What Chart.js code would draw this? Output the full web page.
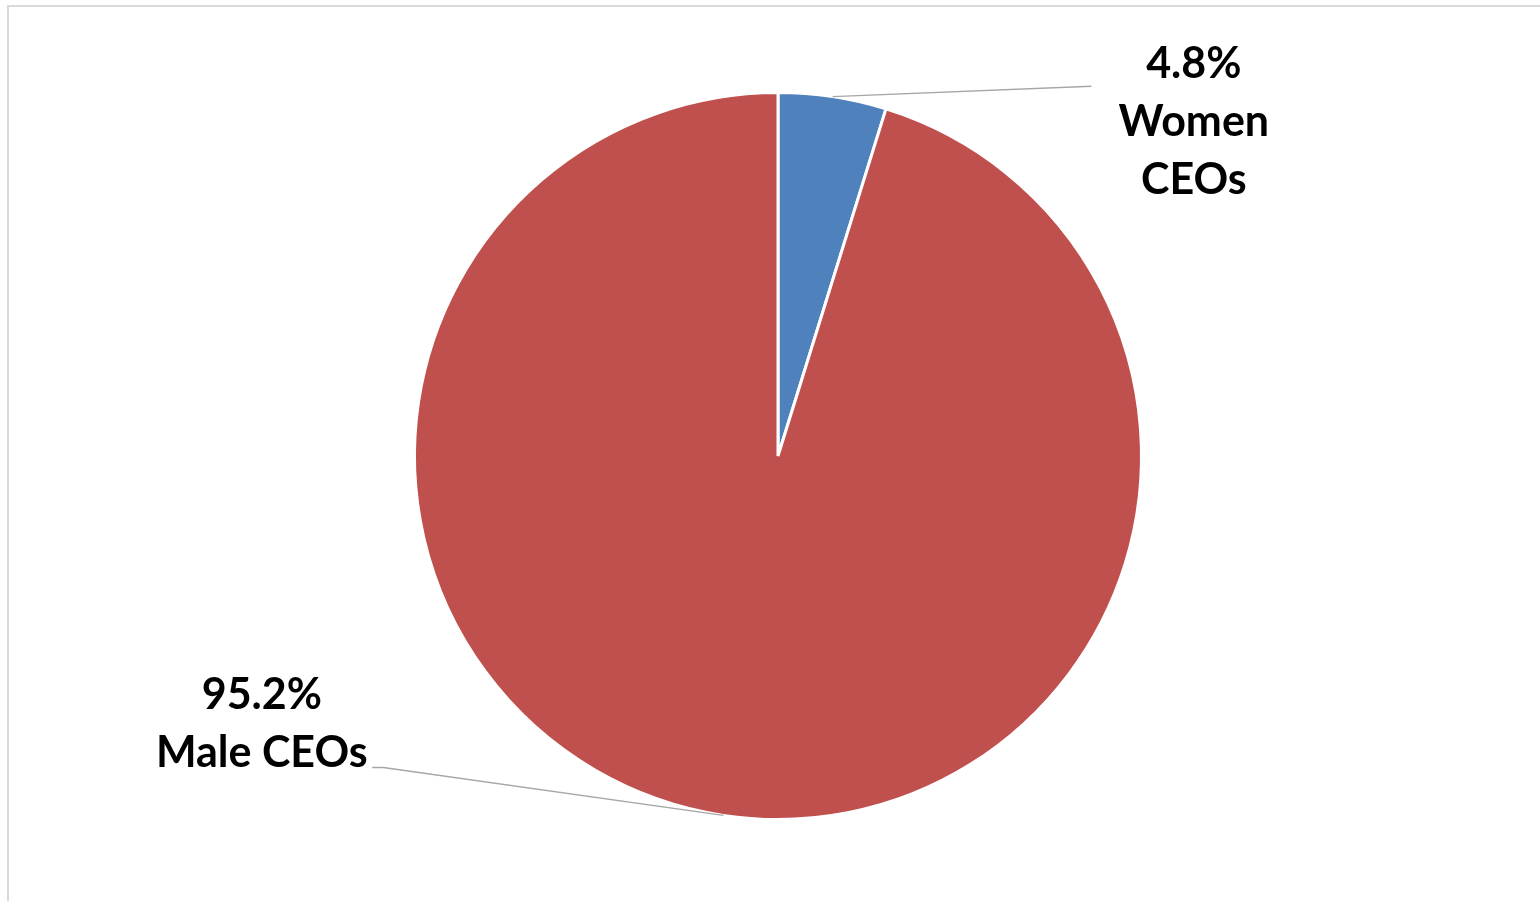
<!DOCTYPE html>
<html>
<head>
<meta charset="utf-8">
<script src="https://cdn.jsdelivr.net/npm/chart.js@4.4.1/dist/chart.umd.min.js"></script>
<style>
    html, body { margin: 0; padding: 0; background: #fff; }
    #wrap { width: 1540px; height: 901px; }
</style>
</head>
<body>
<div id="wrap"><canvas id="myChart" width="1540" height="901"></canvas></div>
<script>
// chart data
var categories = ['Women CEOs', 'Male CEOs'];
var shares = [4.8, 95.2];
var labelLines = [['4.8%', 'Women', 'CEOs'], ['95.2%', 'Male CEOs']];
var sliceColors = ['#4F81BD', '#C0504D'];

// frame lines like the office chart border
var framePlugin = {
    id: 'frame',
    beforeDraw: function (chart) {
        var ctx = chart.ctx;
        ctx.save();
        ctx.strokeStyle = '#d9d9d9';
        ctx.lineWidth = 2;
        ctx.beginPath();
        ctx.moveTo(8, 901);
        ctx.lineTo(8, 6);
        ctx.lineTo(1540, 6);
        ctx.stroke();
        ctx.restore();
    }
};

// data labels with leader lines
var labelPlugin = {
    id: 'calloutLabels',
    afterDatasetsDraw: function (chart) {
        var ctx = chart.ctx;
        var arcs = chart.getDatasetMeta(0).data;
        ctx.save();
        ctx.font = 'bold 43px Lato';
        ctx.textAlign = 'center';
        ctx.textBaseline = 'alphabetic';
        ctx.strokeStyle = '#a6a6a6';
        ctx.lineWidth = 1.5;

        arcs.forEach(function (arc, i) {
            var cx = arc.x, cy = arc.y, r = arc.outerRadius;
            var mid = (arc.startAngle + arc.endAngle) / 2;
            var sx = cx + Math.cos(mid) * r;
            var sy = cy + Math.sin(mid) * r;
            var lines = labelLines[i];
            var tx, ty, ex, ey;
            if (i === 0) {
                tx = cx + r * 1.144;
                ty = cy - r * 1.041;
                ex = cx + r * 0.862;
                ey = cy - r * 1.017;
                ctx.beginPath();
                ctx.moveTo(sx, sy);
                ctx.lineTo(ex, ey);
                ctx.stroke();
            } else {
                tx = cx - r * 1.42;
                ty = cy + r * 0.696;
                ex = cx - r * 1.086;
                ey = cy + r * 0.857;
                ctx.beginPath();
                ctx.moveTo(sx, sy);
                ctx.lineTo(ex, ey);
                ctx.lineTo(ex - 11, ey);
                ctx.stroke();
            }
            ctx.fillStyle = '#000';
            lines.forEach(function (t, k) {
                ctx.fillText(t, tx, ty + k * 58);
            });
        });
        ctx.restore();
    }
};

var ctx = document.getElementById('myChart').getContext('2d');
var myChart = new Chart(ctx, {
    type: 'pie',
    data: {
        labels: categories,
        datasets: [{
            data: shares,
            backgroundColor: sliceColors,
            borderColor: '#ffffff',
            borderWidth: 3
        }]
    },
    options: {
        responsive: false,
        animation: false,
        layout: {
            padding: { left: 16, right: 0, top: 91, bottom: 80 }
        },
        plugins: {
            legend: { display: false },
            tooltip: { enabled: false }
        }
    },
    plugins: [framePlugin, labelPlugin]
});
</script>
</body>
</html>
